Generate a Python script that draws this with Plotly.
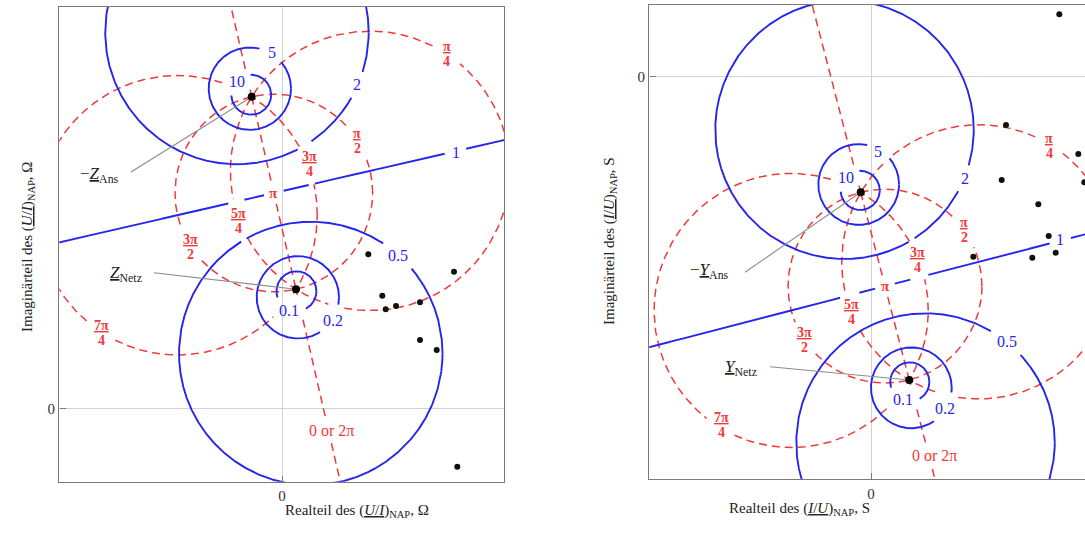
import numpy as np
import plotly.graph_objects as go

FIG_W, FIG_H = 1085, 536
SERIF = "Liberation Serif"
BLUE = "#2525ee"
RED = "#f03a3a"
LEADER = "#8c8c8c"
FRAME = "#7a7a7a"

# ---------------------------------------------------------------- data
# ratio levels |X - X_Netz| / |X - (-X_Ans)|  (blue circles)
ratio_levels = [0.1, 0.2, 0.5, 1.0, 2.0, 5.0, 10.0]
ratio_labels = ["0.1", "0.2", "0.5", "1", "2", "5", "10"]
# phase levels; each circle also carries phase + pi on the other side of the chord
phase_levels = [np.pi / 4, np.pi / 2, 3 * np.pi / 4]
phase_labels = ["π/4", "π/2", "3π/4", "π", "5π/4", "3π/2", "7π/4", "0 or 2π"]

# impedance plane (U/I)_NAP
z_ans_neg = [-0.303, 3.118]     # -Z_Ans
z_netz = [0.14, 1.192]          # Z_Netz
z_re = [0.863, 1.72, 1.003, 1.037, 1.14, 1.38, 1.38, 1.547, 1.753]
z_im = [1.542, 1.368, 1.128, 0.992, 1.025, 1.062, 0.685, 0.585, -0.582]

# admittance plane (I/U)_NAP
y_ans_neg = [-0.103, -1.156]    # -Y_Ans
y_netz = [0.383, -3.033]        # Y_Netz
y_re = [1.883, 1.35, 2.073, 2.133, 1.307, 1.673, 1.777, 1.023, 1.613, 1.847]
y_im = [0.624, -0.483, -0.773, -1.056, -1.033, -1.276, -1.593, -1.8, -1.81, -1.76]

# ---------------------------------------------------------------- layout geometry
PX_PER_UNIT = 100.0
# plot frames in pixels: (left, right, top, bottom), and pixel of the origin
FRAMES = {
    "left": dict(box=(59.3, 504.0, 6.7, 481.7), origin=(282.0, 408.5)),
    "right": dict(box=(649.3, 1085.0, 5.0, 479.3), origin=(871.0, 76.7)),
}

# label anchor points (data units) for each plane
label_pos = {
    "left": {
        "0.1": (0.07, 0.985), "0.2": (0.507, 0.878), "0.5": (1.163, 1.535),
        "1": (1.737, 2.562), "2": (0.753, 3.235), "5": (-0.103, 3.555), "10": (-0.447, 3.268),
        "π/4": (1.647, 3.552), "π/2": (0.753, 2.685), "3π/4": (0.275, 2.455),
        "π": (-0.082, 2.155), "5π/4": (-0.437, 1.885), "3π/2": (-0.92, 1.618),
        "7π/4": (-1.81, 0.758), "0 or 2π": (0.497, -0.215),
    },
    "right": {
        "0.1": (0.317, -3.233), "0.2": (0.74, -3.316), "0.5": (1.357, -2.65),
        "1": (1.89, -1.63), "2": (0.94, -1.023), "5": (0.073, -0.75), "10": (-0.25, -1.01),
        "π/4": (1.78, -0.69), "π/2": (0.933, -1.533), "3π/4": (0.463, -1.833),
        "π": (0.14, -2.095), "5π/4": (-0.193, -2.35), "3π/2": (-0.67, -2.633),
        "7π/4": (-1.5, -3.483), "0 or 2π": (0.633, -3.793),
    },
}

# half sizes (px) of the blank space left around each label
label_gap_px = {"0.1": (17, 17), "0.2": (17, 17), "0.5": (19, 19), "1": (11, 11),
                "2": (14, 14), "5": (13, 13), "10": (15, 15), "π": (10, 11),
                "0 or 2π": (30, 13)}
FRACTION_GAP = (15, 22)

# name tags with leader lines: text position, leader start (data units)
tags = {
    "left": [
        dict(text="−<u><i>Z</i></u><sub>Ans</sub>", pos=(-1.83, 2.34), start=(-1.51, 2.365), to="ans"),
        dict(text="<u><i>Z</i></u><sub>Netz</sub>", pos=(-1.565, 1.35), start=(-1.28, 1.358), to="netz"),
    ],
    "right": [
        dict(text="−<u><i>Y</i></u><sub>Ans</sub>", pos=(-1.615, -1.948), start=(-1.26, -1.956), to="ans"),
        dict(text="<u><i>Y</i></u><sub>Netz</sub>", pos=(-1.30, -2.918), start=(-1.01, -2.90), to="netz"),
    ],
}


def gap_of(key):
    return FRACTION_GAP if "/" in key else label_gap_px[key]


def cut(xs, ys, gaps):
    keep = np.ones(len(xs), bool)
    for cx, cy, rx, ry in gaps:
        keep &= ((xs - cx) / rx) ** 2 + ((ys - cy) / ry) ** 2 > 1.0
    xo = [float(v) if k else None for v, k in zip(xs, keep)]
    yo = [float(v) if k else None for v, k in zip(ys, keep)]
    return xo + [None], yo + [None]


def panel_curves(a, b, gaps):
    a = np.asarray(a, float)
    b = np.asarray(b, float)
    d = np.linalg.norm(b - a)
    m = (a + b) / 2
    u = (b - a) / d
    n = np.array([u[1], -u[0]])
    if n[0] < 0:
        n = -n
    phi = np.linspace(0, 2 * np.pi, 4000)
    t = np.linspace(-6, 6, 8000)

    blue_x, blue_y = [], []
    for k in ratio_levels:
        if k == 1.0:
            xs, ys = m[0] + t * n[0], m[1] + t * n[1]
        else:
            c = (b - k * k * a) / (1 - k * k)
            r = k * d / abs(1 - k * k)
            xs, ys = c[0] + r * np.cos(phi), c[1] + r * np.sin(phi)
        px, py = cut(xs, ys, gaps)
        blue_x += px
        blue_y += py

    red_x, red_y = [], []
    for th in phase_levels:
        c = m + n * (d / 2) / np.tan(th)
        r = d / (2 * np.sin(th))
        px, py = cut(c[0] + r * np.cos(phi), c[1] + r * np.sin(phi), gaps)
        red_x += px
        red_y += py
    # phase pi: the chord between both points
    s = np.linspace(0, 1, 1500)
    px, py = cut(a[0] + s * (b[0] - a[0]), a[1] + s * (b[1] - a[1]), gaps)
    red_x += px
    red_y += py
    # phase 0 / 2pi: the two rays beyond the points
    s = np.linspace(0, 6, 5000)
    for p0, dirv in ((a, -u), (b, u)):
        px, py = cut(p0[0] + s * dirv[0], p0[1] + s * dirv[1], gaps)
        red_x += px
        red_y += py
    return blue_x, blue_y, red_x, red_y


fig = go.Figure()
annotations = []
layout_axes = {}

panels = [
    ("left", "x", "y", z_ans_neg, z_netz, z_re, z_im),
    ("right", "x2", "y2", y_ans_neg, y_netz, y_re, y_im),
]

for name, xa, ya, p_ans, p_netz, dre, dim in panels:
    fr = FRAMES[name]
    L, R, T, B = fr["box"]
    ox, oy = fr["origin"]
    xr = [(L - ox) / PX_PER_UNIT, (R - ox) / PX_PER_UNIT]
    yr = [(oy - B) / PX_PER_UNIT, (oy - T) / PX_PER_UNIT]

    gaps = []
    for key, (lx, ly) in label_pos[name].items():
        gx, gy = gap_of(key)
        gaps.append((lx, ly, gx / PX_PER_UNIT, gy / PX_PER_UNIT))

    bx, by, rx_, ry_ = panel_curves(p_ans, p_netz, gaps)
    fig.add_trace(go.Scatter(x=rx_, y=ry_, mode="lines", xaxis=xa, yaxis=ya,
                             line=dict(color=RED, width=1.5, dash="8px,5px"),
                             hoverinfo="skip", showlegend=False))
    fig.add_trace(go.Scatter(x=bx, y=by, mode="lines", xaxis=xa, yaxis=ya,
                             line=dict(color=BLUE, width=1.9),
                             hoverinfo="skip", showlegend=False))

    ends = {"ans": p_ans, "netz": p_netz}
    for tg in tags[name]:
        tx, ty = ends[tg["to"]]
        fig.add_trace(go.Scatter(x=[tg["start"][0], tx], y=[tg["start"][1], ty], mode="lines",
                                 xaxis=xa, yaxis=ya, line=dict(color=LEADER, width=1.1),
                                 hoverinfo="skip", showlegend=False))
        annotations.append(dict(x=tg["pos"][0], y=tg["pos"][1], xref=xa, yref=ya,
                                text=tg["text"], showarrow=False,
                                font=dict(family=SERIF, size=17, color="#1a1a1a")))

    fig.add_trace(go.Scatter(x=dre, y=dim, mode="markers", xaxis=xa, yaxis=ya,
                             marker=dict(color="#0b140b", size=6),
                             hoverinfo="skip", showlegend=False))
    fig.add_trace(go.Scatter(x=[p_ans[0], p_netz[0]], y=[p_ans[1], p_netz[1]], mode="markers",
                             xaxis=xa, yaxis=ya, marker=dict(color="black", size=8),
                             hoverinfo="skip", showlegend=False))

    for key, (lx, ly) in label_pos[name].items():
        if key in ratio_labels:
            annotations.append(dict(x=lx, y=ly, xref=xa, yref=ya, text=key, showarrow=False,
                                    font=dict(family=SERIF, size=16, color=BLUE)))
        elif "/" in key:
            num, den = key.split("/")
            annotations.append(dict(x=lx, y=ly, xref=xa, yref=ya, text=f"<u>{num}</u>",
                                    yshift=7, showarrow=False,
                                    font=dict(family=SERIF, size=14, color=RED, weight="bold")))
            annotations.append(dict(x=lx, y=ly, xref=xa, yref=ya, text=den,
                                    yshift=-8, showarrow=False,
                                    font=dict(family=SERIF, size=14, color=RED, weight="bold")))
        elif key == "π":
            annotations.append(dict(x=lx, y=ly, xref=xa, yref=ya, text=key, showarrow=False,
                                    font=dict(family=SERIF, size=15, color=RED, weight="bold")))
        else:
            annotations.append(dict(x=lx, y=ly, xref=xa, yref=ya, text=key, showarrow=False,
                                    font=dict(family=SERIF, size=16, color=RED)))

    common = dict(showgrid=True, gridcolor="#d2d2d2", gridwidth=1.2, zeroline=False,
                  showline=True, linecolor=FRAME, linewidth=1.4, ticks="inside", ticklen=6,
                  tickcolor=FRAME, tickvals=[0], ticktext=["0"],
                  tickfont=dict(family=SERIF, size=15, color="#333"), fixedrange=True)
    xkey = "xaxis" if xa == "x" else "xaxis2"
    ykey = "yaxis" if ya == "y" else "yaxis2"
    layout_axes[xkey] = dict(common, range=xr, domain=[L / FIG_W, R / FIG_W],
                             anchor=ya, mirror=True)
    layout_axes[ykey] = dict(common, range=yr, domain=[1 - B / FIG_H, 1 - T / FIG_H],
                             anchor=xa, mirror=(name == "left"))

# axis titles
title_font = dict(family=SERIF, size=15, color="#222")
annotations += [
    dict(x=283 / FIG_W, y=1 - 521.5 / FIG_H, xref="paper", yref="paper", showarrow=False,
         text="Realteil des (<u><i>U</i>/<i>I</i></u>)<sub>NAP</sub>, Ω", font=title_font),
    dict(x=871.5 / FIG_W, y=1 - 520 / FIG_H, xref="paper", yref="paper", showarrow=False,
         text="Realteil des (<u><i>I</i>/<i>U</i></u>)<sub>NAP</sub>, S", font=title_font),
    dict(x=17 / FIG_W, y=1 - 247 / FIG_H, xref="paper", yref="paper", showarrow=False,
         textangle=-90,
         text="Imaginärteil des (<u><i>U</i>/<i>I</i></u>)<sub>NAP</sub>, Ω", font=title_font),
    dict(x=610 / FIG_W, y=1 - 241 / FIG_H, xref="paper", yref="paper", showarrow=False,
         textangle=-90,
         text="Imaginärteil des (<u><i>I</i>/<i>U</i></u>)<sub>NAP</sub>, S", font=title_font),
]

fig.update_layout(width=FIG_W, height=FIG_H, margin=dict(l=0, r=0, t=0, b=0),
                  paper_bgcolor="white", plot_bgcolor="white",
                  annotations=annotations, showlegend=False, **layout_axes)

fig.write_html("out.html", config={"displayModeBar": False})
